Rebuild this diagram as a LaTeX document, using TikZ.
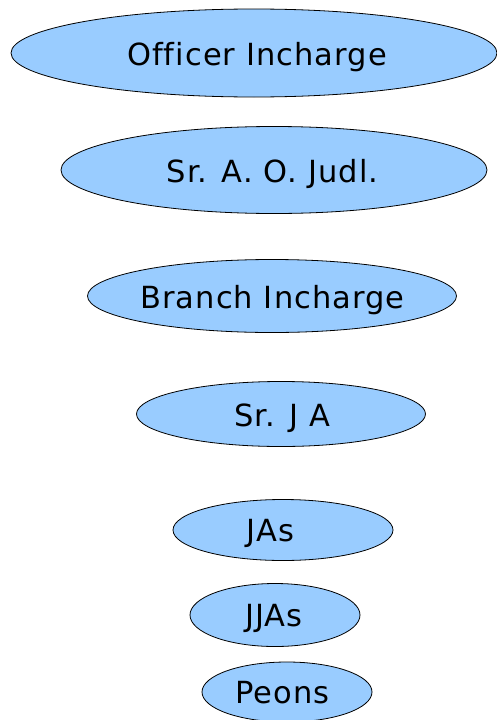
\documentclass[tikz,border=0pt]{standalone}
\usepackage{fontspec}
\setmainfont{DejaVu Sans}[LetterSpace=3.5,Ligatures=NoCommon]
\usetikzlibrary{shapes.geometric}
\definecolor{ellfill}{HTML}{99CCFF}
\tikzset{
  oval/.style={ellipse, draw=black, line width=0.8pt, fill=ellfill, inner sep=0pt},
  lbl/.style={font=\fontsize{30.5}{36}\selectfont, inner sep=0pt, text height=22pt, text depth=0pt}
}
\begin{document}
\begin{tikzpicture}[x=1pt,y=-1pt]
\useasboundingbox (0,0) rectangle (496,720);
\node[oval, minimum width=486pt, minimum height=88pt] (e1) at (254,53) {};
\node[lbl] (t1) at (257,54) {Officer Incharge};
\node[oval, minimum width=426pt, minimum height=87pt] (e2) at (274,170) {};
\node[lbl] (t2) at (272.5,171) {Sr. A. O. Judl.};
\node[oval, minimum width=369pt, minimum height=73pt] (e3) at (272,296) {};
\node[lbl] (t3) at (272.5,297) {Branch Incharge};
\node[oval, minimum width=289pt, minimum height=65pt] (e4) at (281,414) {};
\node[lbl] (t4) at (282,415) {Sr. J A};
\node[oval, minimum width=220pt, minimum height=61pt] (e5) at (283,530) {};
\node[lbl] (t5) at (270.5,530) {JAs};
\node[oval, minimum width=170pt, minimum height=63pt] (e6) at (275,615) {};
\node[lbl] (t6) at (274,615) {JJAs};
\node[oval, minimum width=170pt, minimum height=60pt] (e7) at (287,692) {};
\node[lbl] (t7) at (282.5,692) {Peons};
\end{tikzpicture}
\end{document}
